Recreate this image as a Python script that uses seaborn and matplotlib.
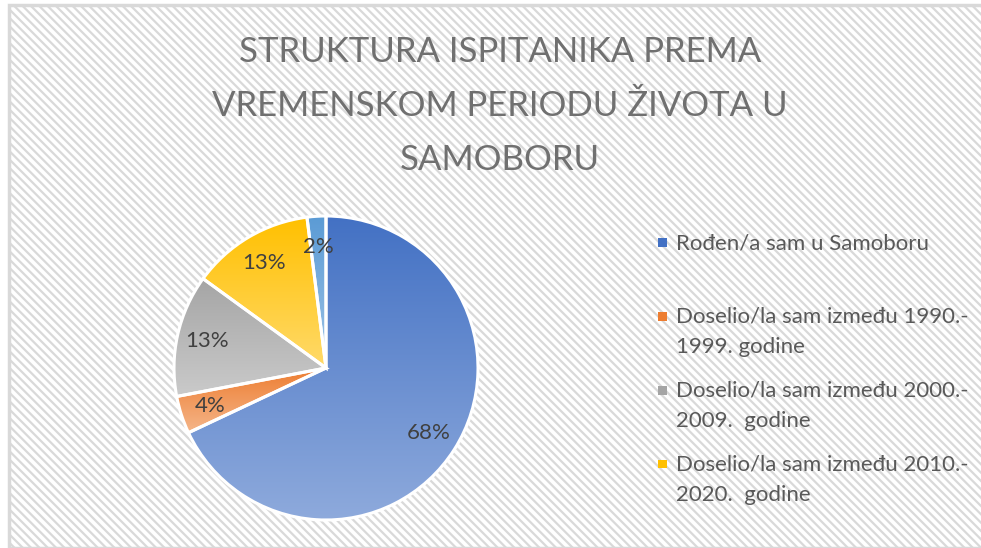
import numpy as np
import matplotlib
matplotlib.use("Agg")
import matplotlib.pyplot as plt
import seaborn as sns
from matplotlib.patches import Rectangle
from matplotlib.colors import LinearSegmentedColormap
from matplotlib.legend_handler import HandlerBase

# podaci
kategorije = ["Rođen/a sam u Samoboru\n",
              "Doselio/la sam između 1990.-\n1999. godine",
              "Doselio/la sam između 2000.-\n2009.  godine",
              "Doselio/la sam između 2010.-\n2020.  godine",
              "Ostalo"]
postoci = [68, 4, 13, 13, 2]
# boje: gornja (tamnija) i donja (svjetlija) boja gradijenta
boje_gore = ["#4371c4", "#ed7d31", "#a5a5a5", "#ffc000", "#5b9bd5"]
boje_dolje = ["#8eaadc", "#f5b68a", "#cacaca", "#ffda6a", "#9dc3e6"]
naslov = "STRUKTURA ISPITANIKA PREMA\nVREMENSKOM PERIODU ŽIVOTA U\nSAMOBORU"

sns.set_theme(style="white")
plt.rcParams["font.family"] = ["Lato", "DejaVu Sans"]
plt.rcParams["hatch.linewidth"] = 1.6
plt.rcParams["hatch.color"] = "#e4e4e4"

W, H = 981, 548
fig = plt.figure(figsize=(W / 100, H / 100), dpi=100)

# pozadina s kosim crtama i okvir
bg = Rectangle((9 / W, 0), 1, 1 - 5 / H, transform=fig.transFigure,
               facecolor="white", edgecolor="#d9d9d9", linewidth=2.5,
               hatch="\\\\\\\\", zorder=-5)
fig.patches.append(bg)

# naslov
fig.text(500 / W, 1 - 106 / H, naslov, ha="center", va="center",
         fontsize=25, color="#707070", linespacing=1.86)

# pita
cx, cy, R = 326, 368, 152
ax = fig.add_axes([(cx - R) / W, (H - cy - R) / H, 2 * R / W, 2 * R / H])
wedges, texts, autotexts = ax.pie(
    postoci, startangle=90, counterclock=False,
    autopct="%1.0f%%", pctdistance=0.8,
    wedgeprops=dict(facecolor="none", edgecolor="white", linewidth=2.2, zorder=3),
    textprops=dict(fontsize=16, color="#404040"))
for t in autotexts:
    t.set_zorder(5)

# gradijent za svaki isječak (gore tamnije, dolje svjetlije)
for w, c1, c2 in zip(wedges, boje_gore, boje_dolje):
    ext = w.get_path().get_extents()
    cmap = LinearSegmentedColormap.from_list("g", [c1, c2])
    grad = np.linspace(0, 1, 256).reshape(-1, 1)
    im = ax.imshow(grad, cmap=cmap, extent=[ext.x0, ext.x1, ext.y0, ext.y1],
                   origin="upper", aspect="auto", zorder=1,
                   interpolation="bilinear")
    im.set_clip_path(w)
ax.set_xlim(-1, 1)
ax.set_ylim(-1, 1)
ax.set_aspect("equal")
ax.axis("off")

# legenda: kvadratić poravnat s prvim retkom
LINE_PX = 30


class PrviRedKvadrat(HandlerBase):
    def create_artists(self, legend, orig_handle, xdescent, ydescent,
                       width, height, fontsize, trans):
        s = 0.4 * fontsize
        y0 = LINE_PX * 0.72 + 0.33 * fontsize - s / 2 - 10
        r = Rectangle((-xdescent, y0), s, s,
                      facecolor=orig_handle.get_facecolor(), edgecolor="none",
                      transform=trans)
        return [r]


ruke = [Rectangle((0, 0), 1, 1, facecolor=c) for c in boje_gore[:4]]
leg = fig.legend(ruke, kategorije[:4], loc="upper left",
                 bbox_to_anchor=(658 / W, 1 - 233 / H), frameon=False,
                 fontsize=16, borderpad=0, borderaxespad=0,
                 handlelength=0.5, handletextpad=0.3, labelspacing=1.05,
                 handler_map={Rectangle: PrviRedKvadrat()})
for t in leg.get_texts():
    t.set_color("#595959")
    t.set_linespacing(1.65)

fig.savefig("out.png", dpi=100)
